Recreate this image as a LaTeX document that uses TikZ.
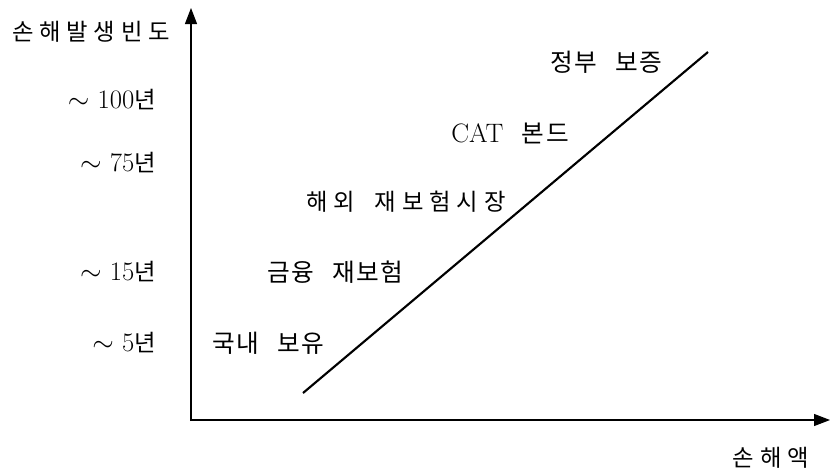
\documentclass[tikz,border=0pt]{standalone}
\usepackage{fontspec}
\newfontfamily\kr{Noto Sans CJK KR}[LetterSpace=6, WordSpace=2.6]
\newfontfamily\krwide{Noto Sans CJK KR}[LetterSpace=25, WordSpace=1.8]
\usetikzlibrary{arrows.meta}

\begin{document}
\begin{tikzpicture}[
        x=0.75pt, y=-0.75pt,
        axis/.style={-{Triangle[length=12pt,width=9pt]}, draw=black, line width=0.8pt},
        trend/.style={draw=black, line width=1.6pt},
        title/.style={font=\fontsize{17.5}{21}\selectfont\krwide, inner sep=0pt},
        tick/.style={anchor=east, font=\fontsize{20}{24}\selectfont, inner sep=0pt},
        tier/.style={anchor=west, font=\fontsize{18.5}{22}\selectfont\kr, inner sep=0pt}
    ]
        \useasboundingbox (0,0) rectangle (831,472);
        \coordinate (origin) at (191,420);
        \coordinate (ytop) at (191,8);
        \coordinate (xend) at (830,420);
        \coordinate (lo) at (303,393);
        \coordinate (hi) at (708,52);
        \draw[axis] ([yshift=-0.8pt]origin) -- (ytop);
        \draw[axis] (origin) -- (xend);
        \draw[trend] (lo) -- (hi);
        \node[title] (freq) at (91,32) {손해발생빈도};
        \node[title] (loss) at (771,458) {손해액};
        \node[tick] (y100) at (156,100) {$\sim$\ 100{\fontsize{17.5}{21}\selectfont\kr 년}};
        \node[tick] (y75) at (156,163) {$\sim$\ 75{\fontsize{17.5}{21}\selectfont\kr 년}};
        \node[tick] (y15) at (156,272) {$\sim$\ 15{\fontsize{17.5}{21}\selectfont\kr 년}};
        \node[tick] (y5) at (156,343) {$\sim$\ 5{\fontsize{17.5}{21}\selectfont\kr 년}};
        \node[tier] (home) at (212,343) {국내 보유};
        \node[tier] (fin) at (267,272) {금융 재보험};
        \node[tier, font=\fontsize{17.5}{21}\selectfont\krwide] (abroad) at (306,202) {해외 재보험시장};
        \node[tier] (cat) at (451,133) {\fontsize{20}{24}\selectfont\rmfamily CAT\hspace{14pt}{\fontsize{18.5}{22}\selectfont\kr 본드}};
        \node[tier] (gov) at (550,62) {정부 보증};
\end{tikzpicture}
\end{document}
